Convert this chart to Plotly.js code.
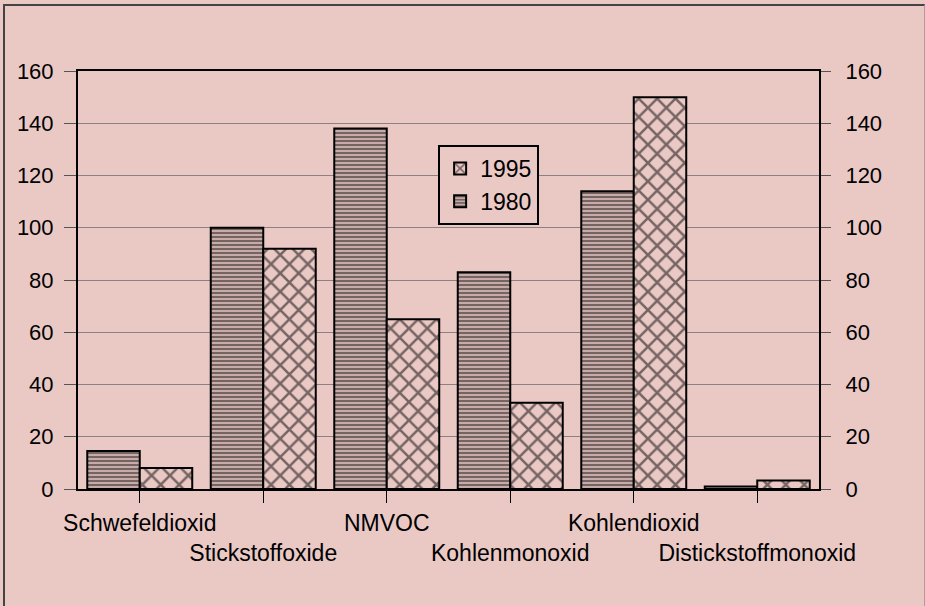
<!DOCTYPE html>
<html>
<head>
<meta charset="utf-8">
<script src="https://cdn.plot.ly/plotly-3.0.1.min.js"></script>
<style>
  html, body { margin: 0; padding: 0; background: #eac9c5; }
  #chart { width: 925px; height: 606px; }
  #frame { position: absolute; left: 3px; top: 4px; width: 919px; height: 610px;
           border-left: 2px solid #444; border-top: 2px solid #444; border-right: 1px solid #b39a98;
           pointer-events: none; }
</style>
</head>
<body>
<div id="chart"></div>
<div id="frame"></div>
<script>
const categories = ["Schwefeldioxid", "Stickstoffoxide", "NMVOC", "Kohlenmonoxid", "Kohlendioxid", "Distickstoffmonoxid"];
const tickLabels = ["Schwefeldioxid", "<br>Stickstoffoxide", "NMVOC", "<br>Kohlenmonoxid", "Kohlendioxid", "<br>Distickstoffmonoxid"];
const values1980 = [14.5, 100, 138, 83, 114, 1];
const values1995 = [8, 92, 65, 33, 150, 3.3];
const yTicks = [0, 20, 40, 60, 80, 100, 120, 140, 160];

const bg = "#eac9c5";
const font = "Liberation Sans, Arial, sans-serif";

const traces = [
  {
    type: "bar", name: "1980", x: categories, y: values1980,
    marker: {
      color: bg,
      line: {color: "#000", width: 2},
      pattern: {shape: "-", fgcolor: "#000", bgcolor: bg, size: 4, solidity: 0.65, fillmode: "overlay"}
    }
  },
  {
    type: "bar", name: "1995", x: categories, y: values1995,
    marker: {
      color: bg,
      line: {color: "#000", width: 2},
      pattern: {shape: "x", fgcolor: "#000", bgcolor: bg, size: 13, solidity: 0.35, fillmode: "overlay"}
    }
  },
  { type: "scatter", x: [], y: [], yaxis: "y2", showlegend: false, hoverinfo: "skip" }
];

const layout = {
  width: 925, height: 606,
  paper_bgcolor: bg, plot_bgcolor: bg,
  font: {family: font, color: "#000", size: 22},
  margin: {l: 78, r: 106, t: 71, b: 117},
  barmode: "group", bargap: 0.15, bargroupgap: 0,
  showlegend: true,
  legend: {
    x: 0.486, y: 0.823, xanchor: "left", yanchor: "top",
    bgcolor: bg, bordercolor: "#000", borderwidth: 2,
    traceorder: "reversed", font: {family: font, size: 23, color: "#000"},
    itemwidth: 30
  },
  xaxis: {
    type: "category", tickvals: categories, ticktext: tickLabels, tickangle: 0,
    showline: true, linecolor: "#000", linewidth: 2, mirror: true,
    ticks: "outside", ticklen: 12, tickcolor: "#000", tickwidth: 1,
    tickfont: {family: font, size: 23, color: "#000"},
    showgrid: false, zeroline: false, fixedrange: true
  },
  yaxis: {
    range: [0, 160], tickvals: yTicks,
    showline: true, linecolor: "#000", linewidth: 2,
    ticks: "outside", ticklen: 12, tickcolor: "#555", tickwidth: 1,
    tickfont: {family: font, size: 22, color: "#000"}, ticklabelstandoff: 6,
    showgrid: true, gridcolor: "#8c8080", gridwidth: 1, zeroline: false
  },
  yaxis2: {
    range: [0, 160], tickvals: yTicks, overlaying: "y", side: "right",
    showline: true, linecolor: "#000", linewidth: 2,
    ticks: "outside", ticklen: 10, tickcolor: "#555", tickwidth: 1,
    tickfont: {family: font, size: 22, color: "#000"}, ticklabelstandoff: 10,
    showgrid: false, zeroline: false
  }
};

Plotly.newPlot("chart", traces, layout, {staticPlot: true});
</script>
</body>
</html>
